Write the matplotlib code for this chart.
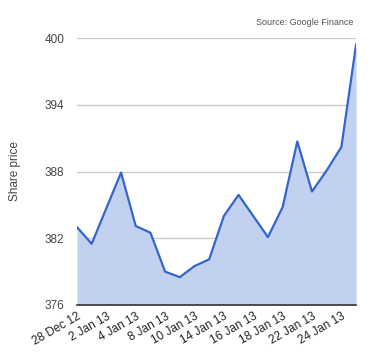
import matplotlib
matplotlib.use('Agg')
import matplotlib.pyplot as plt
import numpy as np

# --- DATA ---
dates = ["28 Dec 12", "31 Dec 12", "2 Jan 13", "3 Jan 13", "4 Jan 13", "7 Jan 13",
         "8 Jan 13", "9 Jan 13", "10 Jan 13", "11 Jan 13", "14 Jan 13", "15 Jan 13",
         "16 Jan 13", "17 Jan 13", "18 Jan 13", "21 Jan 13", "22 Jan 13", "23 Jan 13",
         "24 Jan 13", "25 Jan 13"]
prices = [383.0, 381.5, 384.7, 387.9, 383.1, 382.5, 379.0, 378.5, 379.5, 380.1,
          384.0, 385.9, 384.0, 382.1, 384.8, 390.7, 386.2, 388.1, 390.2, 399.4]
tick_idx = [0, 2, 4, 6, 8, 10, 12, 14, 16, 18]
tick_labels = ["28 Dec 12", "2 Jan 13", "4 Jan 13", "8 Jan 13", "10 Jan 13",
               "14 Jan 13", "16 Jan 13", "18 Jan 13", "22 Jan 13", "24 Jan 13"]
y_ticks = [376, 382, 388, 394, 400]

plt.rcParams['font.family'] = ['Liberation Sans', 'DejaVu Sans']

fig = plt.figure(figsize=(3.8, 3.6), dpi=100)
ax = fig.add_axes([0.2026, 0.1528, 0.7344, 0.7416])

x = np.arange(len(prices))
ax.fill_between(x, prices, 376, color='#c2d1f0', lw=0, zorder=2)
ax.plot(x, prices, color='#3366cc', lw=1.6, zorder=3)

ax.set_xlim(0, len(prices) - 1)
ax.set_ylim(376, 400)
ax.set_yticks(y_ticks)
ax.set_xticks(tick_idx)
ax.set_xticklabels(tick_labels, rotation=30, ha='right', rotation_mode='anchor',
                   fontsize=8.5, color='#222222')
ax.tick_params(axis='y', labelsize=8.5, labelcolor='#444444', length=0, pad=9)
ax.tick_params(axis='x', length=0, pad=4)
ax.grid(axis='y', color='#cccccc', lw=1, zorder=1)

for s in ['top', 'right', 'left']:
    ax.spines[s].set_visible(False)
ax.spines['bottom'].set_color('#333333')
ax.spines['bottom'].set_linewidth(1.2)
ax.spines['bottom'].set_zorder(4)

ax.set_ylabel("Share price", fontsize=8.5, color='#444444', labelpad=17)
fig.text(0.93, 0.925, "Source: Google Finance", ha='right', va='bottom',
         fontsize=6.5, color='#555555')

fig.savefig('out.png', dpi=100)
